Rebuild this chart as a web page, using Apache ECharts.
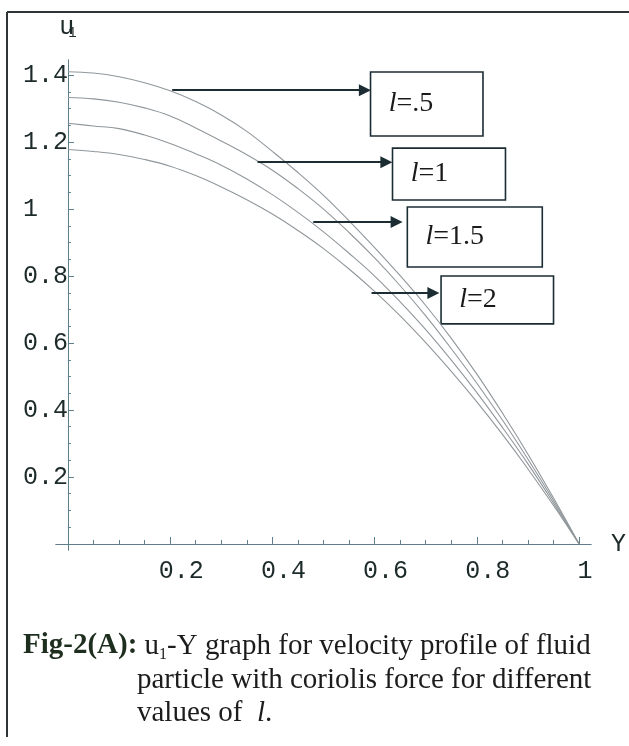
<!DOCTYPE html>
<html>
<head>
<meta charset="utf-8">
<script src="https://cdn.jsdelivr.net/npm/echarts@6/dist/echarts.min.js"></script>
<style>
html,body{margin:0;padding:0;background:#fff;}
#chart{width:629px;height:746px;}
</style>
</head>
<body>
<div id="chart"></div>
<script>
// ---- data ----
const yPos = [0, 0.05, 0.1, 0.15, 0.2, 0.25, 0.3, 0.35, 0.4, 0.45, 0.5, 0.55, 0.6, 0.65, 0.7, 0.75, 0.8, 0.85, 0.9, 0.95, 1];
const uL05 = [1.41, 1.406, 1.395, 1.377, 1.353, 1.321, 1.281, 1.232, 1.172, 1.109, 1.041, 0.965, 0.885, 0.801, 0.712, 0.614, 0.507, 0.391, 0.268, 0.137, 0];
const uL10 = [1.333, 1.329, 1.319, 1.302, 1.278, 1.242, 1.203, 1.162, 1.116, 1.061, 1.0, 0.930, 0.854, 0.771, 0.681, 0.583, 0.480, 0.370, 0.253, 0.130, 0];
const uL15 = [1.256, 1.248, 1.240, 1.221, 1.196, 1.165, 1.131, 1.090, 1.043, 0.990, 0.932, 0.868, 0.800, 0.723, 0.640, 0.549, 0.452, 0.348, 0.239, 0.122, 0];
const uL20 = [1.178, 1.172, 1.163, 1.148, 1.128, 1.100, 1.066, 1.028, 0.985, 0.936, 0.882, 0.821, 0.754, 0.681, 0.601, 0.515, 0.424, 0.327, 0.224, 0.115, 0];
const seriesNames = ['l=.5', 'l=1', 'l=1.5', 'l=2'];
const labelTexts = ['{i|l}=.5', '{i|l}=1', '{i|l}=1.5', '{i|l}=2'];
const xTickValues = [0.2, 0.4, 0.6, 0.8, 1];
const xTickLabels = ['0.2', '0.4', '0.6', '0.8', '1'];
const yTickValues = [0.2, 0.4, 0.6, 0.8, 1, 1.2, 1.4];
const yTickLabels = ['0.2', '0.4', '0.6', '0.8', '1', '1.2', '1.4'];
const xMinorTicks = [0.05,0.1,0.15,0.25,0.3,0.35,0.45,0.5,0.55,0.65,0.7,0.75,0.85,0.9,0.95];
const yMinorTicks = [0.05,0.1,0.15,0.25,0.3,0.35,0.45,0.5,0.55,0.65,0.7,0.75,0.85,0.9,0.95,1.05,1.1,1.15,1.25,1.3,1.35];
// annotation anchors (data coordinates): arrow start/end, box corners
const arrowFrom = [[0.204, 1.355], [0.371, 1.140], [0.480, 0.961], [0.594, 0.749]];
const arrowTo   = [[0.581, 1.355], [0.623, 1.140], [0.643, 0.961], [0.715, 0.749]];
const boxFrom   = [[0.592, 1.409], [0.635, 1.182], [0.664, 1.006], [0.730, 0.800]];
const boxTo     = [[0.812, 1.218], [0.856, 1.027], [0.928, 0.827], [0.950, 0.657]];
const uSeries = [uL05, uL10, uL15, uL20];

const mono = 'Liberation Mono';
const serif = 'Liberation Serif';
const axisColor = '#5f7e8c';
const textColor = '#1d2a2a';
const curveColor = '#90979b';
const darkLine = '#1b2d33';

const chart = echarts.init(document.getElementById('chart'));

const series = uSeries.map((u, k) => ({
  name: seriesNames[k],
  type: 'line',
  xAxisIndex: 0, yAxisIndex: 0,
  data: yPos.map((y, i) => [y, u[i]]),
  showSymbol: false,
  smooth: 0.4,
  lineStyle: {color: curveColor, width: 1.1},
  z: 3,
  markLine: {
    silent: true,
    symbol: ['none', 'triangle'],
    symbolSize: [12, 12],
    lineStyle: {color: darkLine, width: 2, type: 'solid'},
    label: {show: false},
    data: [[{coord: arrowFrom[k]}, {coord: arrowTo[k]}]],
    z: 5
  },
  markArea: {
    silent: true,
    itemStyle: {color: '#ffffff', borderColor: darkLine, borderWidth: 1.6},
    label: {
      show: true,
      position: 'insideLeft',
      distance: 19,
      formatter: labelTexts[k],
      fontFamily: serif, fontSize: 28, color: '#1a1a1a',
      rich: {i: {fontFamily: serif, fontSize: 28, fontStyle: 'italic', color: '#1a1a1a'}}
    },
    data: [[{coord: boxFrom[k]}, {coord: boxTo[k]}]]
  }
}));

const capStyle = {fontFamily: serif, fontSize: 29, fontWeight: 'normal', color: '#1c1c1c', lineHeight: 34};

const option = {
  animation: false,
  backgroundColor: '#ffffff',
  title: [
    {text: '{b|Fig-2(A):} u{s|1}-Y graph for velocity profile of fluid', left: 23, top: 629, padding: 0,
     textStyle: Object.assign({}, capStyle, {
       rich: {b: {fontFamily: serif, fontSize: 29, fontWeight: 'bold', color: '#1e2e1e', lineHeight: 34},
              s: {fontFamily: serif, fontSize: 16, lineHeight: 14, verticalAlign: 'bottom', color: '#1c1c1c'}}})},
    {text: 'particle with coriolis force for different', left: 137, top: 663, padding: 0,
     textStyle: capStyle},
    {text: 'values of  {i|l}.', left: 137, top: 696, padding: 0,
     textStyle: Object.assign({}, capStyle, {
       rich: {i: {fontFamily: serif, fontSize: 29, fontStyle: 'italic', color: '#1c1c1c', lineHeight: 34}}})}
  ],
  grid: {left: 56, right: 34, top: 60, bottom: 196, containLabel: false},
  xAxis: [
    {
      type: 'value', min: -0.0233, max: 1.0233,
      name: 'Y', nameLocation: 'end', nameGap: 20,
      nameTextStyle: {fontFamily: mono, fontSize: 25, color: textColor},
      axisLine: {show: true, onZero: true, lineStyle: {color: axisColor, width: 1}},
      axisTick: {show: true, inside: true, length: 7, customValues: xTickValues, lineStyle: {color: axisColor}},
      axisLabel: {
        show: true, margin: 9, customValues: xTickValues,
        formatter: v => { const i = xTickValues.indexOf(v); const t = i >= 0 ? xTickLabels[i] : ''; return v === 1 ? '{o|' + t + '}' : '{d|' + t + '}'; },
        rich: {
          d: {fontFamily: mono, fontSize: 25, color: textColor, padding: [0, 0, 0, 22]},
          o: {fontFamily: mono, fontSize: 25, color: textColor, padding: [0, 0, 0, 12]}
        }
      },
      splitLine: {show: false}
    },
    {
      type: 'value', min: -0.0233, max: 1.0233,
      axisLine: {show: true, onZero: true, onZeroAxisIndex: 1, lineStyle: {color: axisColor, width: 1}},
      axisTick: {show: true, inside: false, length: 4, customValues: xMinorTicks, lineStyle: {color: axisColor}},
      axisLabel: {show: false},
      splitLine: {show: false}
    }
  ],
  yAxis: [
    {
      type: 'value', min: -0.018, max: 1.445,
      name: '{u|u}{s|1}', nameLocation: 'end', nameGap: 20,
      nameTextStyle: {rich: {
        u: {fontFamily: mono, fontSize: 25, color: textColor},
        s: {fontFamily: mono, fontSize: 14, color: textColor, lineHeight: 12, verticalAlign: 'bottom', padding: [0, 0, 0, -6]}
      }},
      axisLine: {show: true, onZero: true, lineStyle: {color: axisColor, width: 1}},
      axisTick: {show: true, inside: true, length: 6, customValues: yTickValues, lineStyle: {color: axisColor}},
      axisLabel: {
        show: true, customValues: yTickValues, align: 'left', margin: 33,
        fontFamily: mono, fontSize: 25, color: textColor,
        formatter: v => { const i = yTickValues.indexOf(v); return i >= 0 ? yTickLabels[i] : ''; }
      },
      splitLine: {show: false}
    },
    {
      type: 'value', min: -0.018, max: 1.445,
      axisLine: {show: true, onZero: true, onZeroAxisIndex: 1, lineStyle: {color: axisColor, width: 1}},
      axisTick: {show: true, inside: false, length: 3, customValues: yMinorTicks, lineStyle: {color: axisColor}},
      axisLabel: {show: false},
      splitLine: {show: false}
    }
  ],
  graphic: [
    {type: 'line', shape: {x1: 7, y1: 12, x2: 629, y2: 12}, style: {stroke: '#2f3436', lineWidth: 2}},
    {type: 'line', shape: {x1: 7, y1: 12, x2: 7, y2: 737}, style: {stroke: '#2f3436', lineWidth: 2}}
  ],
  series: series
};
chart.setOption(option);
</script>
</body>
</html>
